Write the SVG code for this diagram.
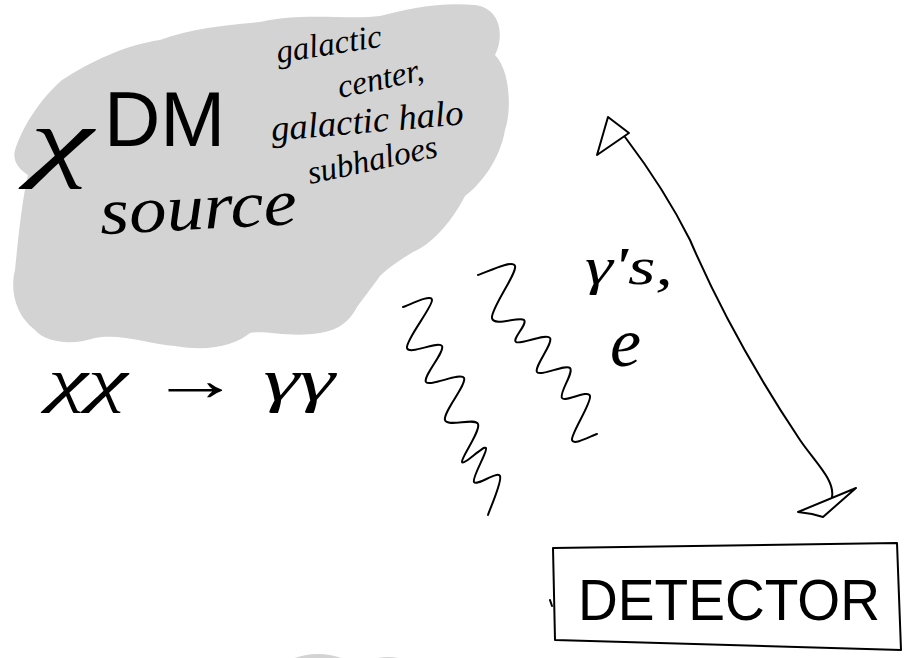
<svg xmlns="http://www.w3.org/2000/svg" width="906" height="658" viewBox="0 0 906 658">
<style>
.ink{fill:none;stroke:#000;stroke-width:2;stroke-linecap:round;stroke-linejoin:round}
.hand{font-family:"Liberation Serif","DejaVu Serif",serif;font-style:italic;fill:#000}
.print{font-family:"Liberation Sans","DejaVu Sans",sans-serif;fill:#000}
.cloud{fill:#d3d3d3}
</style>
<rect width="906" height="658" fill="#fff"/>
<g id="source">
<path class="cloud" d="M15,150 C25,120 45,95 62,80 C90,62 125,45 160,40 C190,28 230,25 260,22 C300,12 350,20 380,16 C410,8 440,2 475,5 C500,8 505,35 495,55 C510,70 512,110 505,130 C500,160 480,185 465,196 C450,225 430,245 413,252 C400,260 388,268 380,276 C370,290 362,300 357,307 C350,320 340,330 320,333 C290,338 265,330 250,333 C235,345 210,352 175,346 C150,344 120,333 95,338 C70,346 45,342 35,330 C15,315 10,290 15,270 C18,240 22,200 28,175 C20,170 12,162 15,150 Z"/>
<text class="hand" x="30" y="170" font-size="88" textLength="63" lengthAdjust="spacingAndGlyphs">χ</text>
<text class="print" x="104" y="146" font-size="78">DM</text>
<text class="hand" x="100" y="229" font-size="66" textLength="197" lengthAdjust="spacingAndGlyphs" transform="rotate(-3 200 215)">source</text>
<text class="hand" x="278" y="63" font-size="33" transform="rotate(-9 278 63)">galactic</text>
<text class="hand" x="340" y="98" font-size="33" transform="rotate(-12 340 98)">center,</text>
<text class="hand" x="272" y="141" font-size="36" textLength="193" lengthAdjust="spacingAndGlyphs" transform="rotate(-5 272 141)">galactic halo</text>
<text class="hand" x="310" y="184" font-size="33" transform="rotate(-12 310 184)">subhaloes</text>
</g>
<g id="reaction">
<text class="hand" x="48" y="400" font-size="60" textLength="287" lengthAdjust="spacingAndGlyphs">χχ → γγ</text>
</g>
<g id="photons">
<path class="ink" d="M403,307 C407.8,305.8 431.3,293.2 432,300 C432.7,306.8 405.3,340.3 407,348 C408.7,355.7 438.8,340.3 442,346 C445.2,351.7 422.3,376.7 426,382 C429.7,387.3 460.8,371.7 464,378 C467.2,384.3 442.7,412.3 445,420 C447.3,427.7 475.2,417 478,424 C480.8,431 460.7,458 462,462 C463.3,466 484,444.7 486,448 C488,451.3 471.7,477.3 474,482 C476.3,486.7 497.7,470.5 500,476 C502.3,481.5 490,508.5 488,515"/>
<path class="ink" d="M478,275 C484.2,273.5 512.7,258.8 515,266 C517.3,273.2 490.5,309 492,318 C493.5,327 520,316 524,320 C528,324 511.7,339 516,342 C520.3,345 546.5,333 550,338 C553.5,343 533.7,367 537,372 C540.3,377 565.8,363.7 570,368 C574.2,372.3 558.7,393.3 562,398 C565.3,402.7 588.3,389 590,396 C591.7,403 570.8,433.7 572,440 C573.2,446.3 592.8,435 597,434"/>
<text class="hand" x="585" y="284" font-size="52" textLength="88" lengthAdjust="spacingAndGlyphs">γ's,</text>
<text class="hand" x="610" y="366" font-size="70">e</text>
</g>
<g id="connectors">
<path class="ink" d="M625,137 C650,170 670,200 690,240 C720,310 760,380 800,440 C815,462 835,480 832,497"/>
<path class="ink" d="M608,117 L629,133 L597,155 Z"/>
<path class="ink" d="M798,512 L856,488 L823,517 L812,514 Z"/>
</g>
<g id="detector">
<path class="ink" d="M553,548 L897,543 L901,650 L555,640 Z"/>
<path class="ink" d="M550,600 L552,606"/>
<text class="print" x="578" y="620" font-size="58" textLength="302" lengthAdjust="spacingAndGlyphs">DETECTOR</text>
</g>
<ellipse class="cloud" cx="318" cy="669" rx="34" ry="15"/>
<ellipse class="cloud" cx="388" cy="671" rx="27" ry="14"/>
</svg>
